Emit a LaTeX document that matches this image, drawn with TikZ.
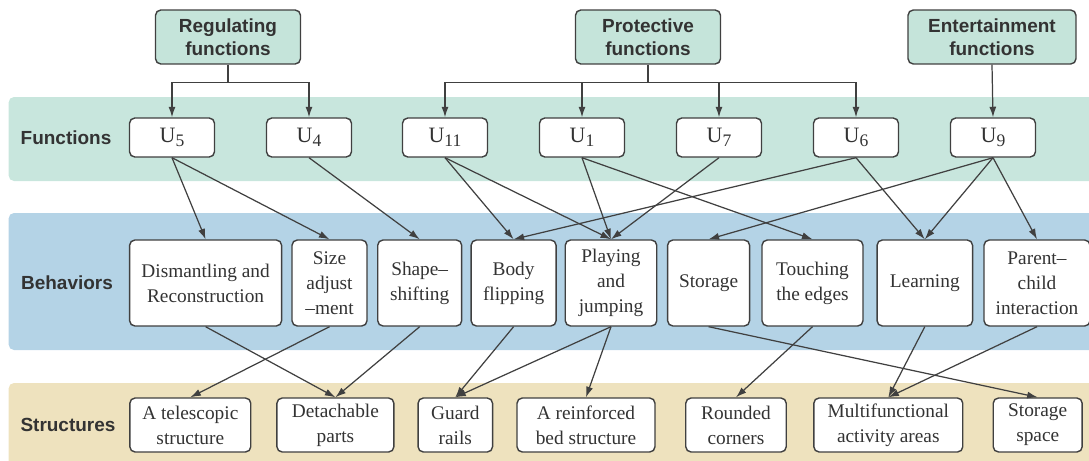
\documentclass[tikz,border=0pt]{standalone}
\usepackage{fontspec}
\setmainfont{Liberation Serif}
\newfontfamily\labelfont{Liberation Sans}
\usetikzlibrary{arrows.meta}
\definecolor{funcband}{RGB}{200,230,221}
\definecolor{behband}{RGB}{180,211,230}
\definecolor{strband}{RGB}{238,226,190}
\definecolor{topfill}{RGB}{197,228,218}
\definecolor{edgegray}{RGB}{64,64,64}
\definecolor{textgray}{RGB}{51,51,51}
\newcommand{\usub}[2]{#1\raisebox{-0.45ex}{\fontsize{10}{10}\selectfont #2}}

\begin{document}
\begin{tikzpicture}[x=0.02cm, y=-0.02cm, >={Latex[length=6pt,width=4pt]},
    topnode/.style={draw=edgegray, fill=topfill, rounded corners=3pt, line width=0.8pt,
        align=center, inner sep=0pt, minimum height=1.08cm, text=textgray,
        font=\labelfont\bfseries\fontsize{10.8}{12.9}\selectfont},
    funcnode/.style={draw=edgegray, fill=white, rounded corners=3pt, line width=0.8pt,
        minimum width=1.7cm, minimum height=0.78cm, inner sep=0pt, text=textgray,
        font=\fontsize{12.5}{14}\selectfont},
    behnode/.style={draw=edgegray, fill=white, rounded corners=3pt, line width=0.8pt,
        align=center, inner sep=0pt, minimum height=1.72cm, text=textgray,
        font=\fontsize{11}{14.2}\selectfont},
    strnode/.style={behnode, minimum height=1.08cm},
    rowlabel/.style={text=textgray, font=\labelfont\bfseries\fontsize{10.8}{13}\selectfont},
    link/.style={->, draw=edgegray, line width=0.7pt}]

    \useasboundingbox (0,0) rectangle (1089,460);

    % coloured bands behind the three rows
    \fill[funcband, rounded corners=3pt] (8.7,97) rectangle (1100,181);
    \fill[behband, rounded corners=3pt] (8.7,213) rectangle (1100,350);
    \fill[strband, rounded corners=3pt] (8.7,383) rectangle (1100,475);

    \node[rowlabel] (lfunc) at (66,138) {Functions};
    \node[rowlabel] (lbeh) at (67,283) {Behaviors};
    \node[rowlabel] (lstr) at (68,425) {Structures};

    % function groups
    \node[topnode, minimum width=2.9cm] (reg) at (228,37) {Regulating\\functions};
    \node[topnode, minimum width=2.9cm] (prot) at (648,37) {Protective\\functions};
    \node[topnode, minimum width=3.36cm] (ent) at (992,37) {Entertainment\\functions};

    % functions
    \node[funcnode] (u5) at (172,137.5) {\usub{U}{5}};
    \node[funcnode] (u4) at (309,137.5) {\usub{U}{4}};
    \node[funcnode] (u11) at (445,137.5) {\usub{U}{11}};
    \node[funcnode] (u1) at (582,137.5) {\usub{U}{1}};
    \node[funcnode] (u7) at (719,137.5) {\usub{U}{7}};
    \node[funcnode] (u6) at (856,137.5) {\usub{U}{6}};
    \node[funcnode] (u9) at (993,137.5) {\usub{U}{9}};

    % behaviors
    \node[behnode, minimum width=3.04cm] (dis) at (205.6,283) {Dismantling and\\Reconstruction};
    \node[behnode, minimum width=1.5cm] (size) at (329.5,283) {Size\\adjust\\\textendash ment};
    \node[behnode, minimum width=1.68cm] (shape) at (419.7,283) {Shape\textendash\\shifting};
    \node[behnode, minimum width=1.7cm] (body) at (513.6,283) {Body\\flipping};
    \node[behnode, minimum width=1.83cm] (play) at (611,283) {Playing\\and\\jumping};
    \node[behnode, minimum width=1.64cm] (stor) at (708.6,283) {Storage};
    \node[behnode, minimum width=2.02cm] (touch) at (812.5,283) {Touching\\the edges};
    \node[behnode, minimum width=1.91cm] (learn) at (924.8,283) {Learning};
    \node[behnode, minimum width=2.12cm] (parent) at (1037,283) {Parent\textendash\\child\\interaction};

    % structures
    \node[strnode, minimum width=2.42cm] (tele) at (190.3,425) {A telescopic\\structure};
    \node[strnode, minimum width=2.34cm] (detach) at (335.4,425) {Detachable\\parts};
    \node[strnode, minimum width=1.49cm] (guard) at (455.3,425) {Guard\\rails};
    \node[strnode, minimum width=2.76cm] (bed) at (586,425) {A reinforced\\bed structure};
    \node[strnode, minimum width=2.01cm] (round) at (736,425) {Rounded\\corners};
    \node[strnode, minimum width=2.98cm] (multi) at (888.3,425) {Multifunctional\\activity areas};
    \node[strnode, minimum width=1.78cm] (space) at (1037.7,425) {Storage\\space};

    % group -> function
    \draw[edgegray, line width=0.7pt] (reg.south) -- ++(0,18) coordinate (regj);
    \draw[link] (regj) -| (u5.north);
    \draw[link] (regj) -| (u4.north);
    \draw[edgegray, line width=0.7pt] (prot.south) -- ++(0,18) coordinate (protj);
    \draw[link] (protj) -| (u11.north);
    \draw[link] (protj) -| (u1.north);
    \draw[link] (protj) -| (u7.north);
    \draw[link] (protj) -| (u6.north);
    \draw[link] (ent.south) -- (u9.north);

    % function -> behavior
    \draw[link] (u5.south) -- (dis.north);
    \draw[link] (u5.south) -- (size.north);
    \draw[link] (u4.south) -- (shape.north);
    \draw[link] (u11.south) -- (body.north);
    \draw[link] (u11.south) -- (play.north);
    \draw[link] (u1.south) -- (play.north);
    \draw[link] (u1.south) -- (touch.north);
    \draw[link] (u7.south) -- (play.north);
    \draw[link] (u6.south) -- (body.north);
    \draw[link] (u6.south) -- (learn.north);
    \draw[link] (u9.south) -- (stor.north);
    \draw[link] (u9.south) -- (learn.north);
    \draw[link] (u9.south) -- (parent.north);

    % behavior -> structure
    \draw[link] (dis.south) -- (detach.north);
    \draw[link] (size.south) -- (tele.north);
    \draw[link] (shape.south) -- (detach.north);
    \draw[link] (body.south) -- (guard.north);
    \draw[link] (play.south) -- (guard.north);
    \draw[link] (play.south) -- (bed.north);
    \draw[link] (stor.south) -- (space.north);
    \draw[link] (touch.south) -- (round.north);
    \draw[link] (learn.south) -- (multi.north);
    \draw[link] (parent.south) -- (multi.north);
%
\end{tikzpicture}
\end{document}
